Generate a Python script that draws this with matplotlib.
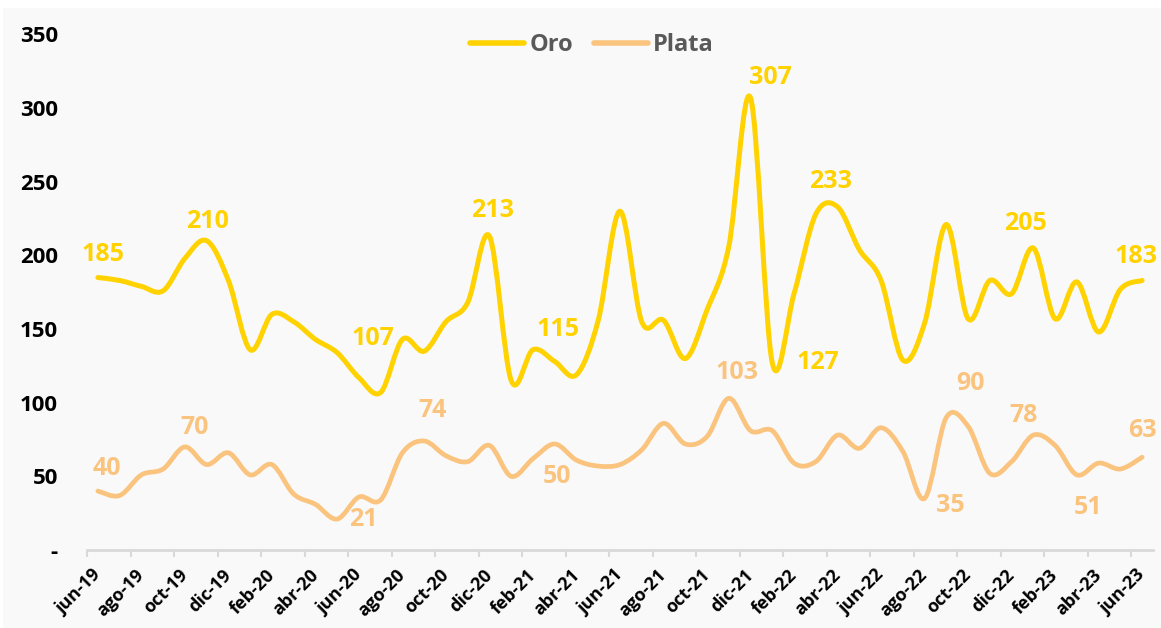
import matplotlib
matplotlib.use("Agg")
import matplotlib.pyplot as plt
import numpy as np
from matplotlib.path import Path
from matplotlib.patches import PathPatch, Rectangle
from matplotlib.lines import Line2D

# ---------------- data ----------------
months = ["jun-19", "jul-19", "ago-19", "sep-19", "oct-19", "nov-19", "dic-19",
          "ene-20", "feb-20", "mar-20", "abr-20", "may-20", "jun-20", "jul-20",
          "ago-20", "sep-20", "oct-20", "nov-20", "dic-20", "ene-21", "feb-21",
          "mar-21", "abr-21", "may-21", "jun-21", "jul-21", "ago-21", "sep-21",
          "oct-21", "nov-21", "dic-21", "ene-22", "feb-22", "mar-22", "abr-22",
          "may-22", "jun-22", "jul-22", "ago-22", "sep-22", "oct-22", "nov-22",
          "dic-22", "ene-23", "feb-23", "mar-23", "abr-23", "may-23", "jun-23"]

oro = [185, 183, 179, 176, 198, 210, 183, 136, 160, 155, 143, 134, 117, 107,
       143, 135, 155, 168, 213, 115, 136, 128, 119, 156, 230, 155, 156, 130,
       163, 206, 307, 127, 174, 228, 233, 204, 183, 129, 154, 221, 157, 183,
       174, 205, 157, 182, 148, 177, 183]

plata = [40, 37, 51, 55, 70, 58, 66, 51, 58, 38, 31, 21, 36, 34, 66, 74, 64,
         60, 71, 50, 62, 72, 61, 57, 58, 68, 86, 72, 77, 103, 81, 81, 59, 60,
         78, 69, 83, 67, 35, 90, 84, 52, 60, 78, 71, 51, 59, 55, 63]

y_ticks = [0, 50, 100, 150, 200, 250, 300, 350]
y_tick_labels = ["-", "50", "100", "150", "200", "250", "300", "350"]

# data labels: (index of point, offset in pixels)
oro_labels = [(0, (5, 23)), (5, (1, 19)), (13, (-8, 54)), (18, (3, 26)),
              (19, (47, 51)), (30, (20, 20)), (31, (46, 0)), (34, (-7, 25)),
              (43, (-8, 25)), (48, (-6, 24))]
plata_labels = [(0, (9, 23)), (4, (10, 19)), (11, (26, 0)), (15, (8, 31)),
                (19, (46, 0)), (29, (8, 26)), (38, (26, -7)), (39, (24, 34)),
                (43, (-10, 20)), (45, (11, -33)), (48, (0, 27))]

ORO_C = "#FFD200"
PLATA_C = "#FAC47F"

plt.rcParams["font.family"] = ["Open Sans", "DejaVu Sans"]

W, H = 1161, 628
fig = plt.figure(figsize=(W / 100, H / 100), dpi=100, facecolor="white")
fig.patches.append(Rectangle((3 / W, 0), 1 - 3 / W, 1 - 8 / H, transform=fig.transFigure,
                             facecolor="#F9F9F9", edgecolor="none", zorder=-10))

ax = fig.add_axes([87 / W, (H - 550) / H, 1066 / W, (550 - 34.5) / H])
ax.set_facecolor("none")


def smooth_path(vals):
    x = np.arange(len(vals), dtype=float)
    y = np.asarray(vals, dtype=float)
    n = len(x)
    verts = [(x[0], y[0])]
    codes = [Path.MOVETO]
    for i in range(n - 1):
        im1 = max(i - 1, 0)
        ip2 = min(i + 2, n - 1)
        c1 = (x[i] + (x[i + 1] - x[im1]) / 6, y[i] + (y[i + 1] - y[im1]) / 6)
        c2 = (x[i + 1] - (x[ip2] - x[i]) / 6, y[i + 1] - (y[ip2] - y[i]) / 6)
        verts += [c1, c2, (x[i + 1], y[i + 1])]
        codes += [Path.CURVE4] * 3
    return Path(verts, codes)


for vals, col, lw in [(plata, PLATA_C, 3.4), (oro, ORO_C, 3.6)]:
    patch = PathPatch(smooth_path(vals), facecolor="none", edgecolor=col, lw=lw,
                      capstyle="round", joinstyle="round")
    ax.add_patch(patch)

ax.set_xlim(-0.5, len(months) - 0.5)
ax.set_ylim(0, 350)

for labels, vals, col in [(oro_labels, oro, ORO_C), (plata_labels, plata, PLATA_C)]:
    for idx, off in labels:
        ax.annotate(f"{vals[idx]}", xy=(idx, vals[idx]), xytext=off,
                    textcoords="offset pixels", ha="center", va="center",
                    fontsize=18, fontweight="bold", color=col,
                    annotation_clip=False)

# y axis
ax.set_yticks(y_ticks)
ax.set_yticklabels(y_tick_labels, fontsize=16, fontweight="bold", color="black")
ax.tick_params(axis="y", length=0, pad=21)

# x axis
ax.set_xticks(np.arange(-0.5, len(months) - 0.5, 2))
ax.set_xticklabels([])
ax.tick_params(axis="x", which="major", length=5, width=1.5, color="#D9D9D9")
ax.set_xticks(np.arange(0, len(months), 2), minor=True)
ax.set_xticklabels(months[::2], minor=True, rotation=45, ha="right",
                   va="center", rotation_mode="anchor", fontsize=13,
                   fontweight="bold", color="black")
ax.tick_params(axis="x", which="minor", length=0, pad=16)

for s in ["top", "right", "left"]:
    ax.spines[s].set_visible(False)
ax.spines["bottom"].set_color("#D9D9D9")
ax.spines["bottom"].set_linewidth(2)

handles = [Line2D([], [], color=ORO_C, lw=4, solid_capstyle="round"),
           Line2D([], [], color=PLATA_C, lw=4, solid_capstyle="round")]
leg = fig.legend(handles, ["Oro", "Plata"], loc="center",
                 bbox_to_anchor=(592 / W, 1 - 45 / H), ncol=2, frameon=False,
                 handlelength=2.3, handletextpad=0.2, columnspacing=0.9,
                 prop={"size": 17, "weight": "bold"})
for t in leg.get_texts():
    t.set_color("#595959")

fig.savefig("out.png", dpi=100, facecolor=fig.get_facecolor())
